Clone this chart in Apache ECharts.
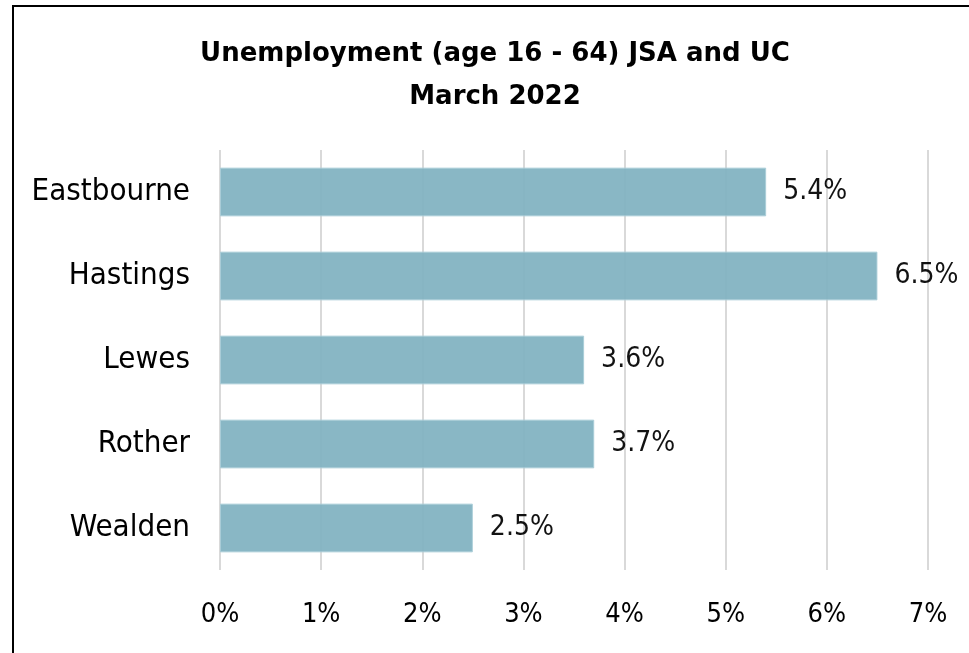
<!DOCTYPE html>
<html>
<head>
<meta charset="utf-8">
<script src="https://cdn.jsdelivr.net/npm/echarts@6/dist/echarts.min.js"></script>
<style>
    html, body { margin: 0; padding: 0; background: #fff; }
    #chart { width: 969px; height: 653px; }
</style>
</head>
<body>
<div id="chart"></div>
<script>
// data
var categories = ["Eastbourne", "Hastings", "Lewes", "Rother", "Wealden"];
var rates = [5.4, 6.5, 3.6, 3.7, 2.5];
var tickMax = 7;

var FONT = "DejaVu Sans";
var FONT_NARROW = "DejaVu Sans Condensed";

var myChart = echarts.init(document.getElementById('chart'));

var option = {
    backgroundColor: '#fff',
    animation: false,
    title: {
        text: 'Unemployment (age 16 - 64) JSA and UC\nMarch 2022',
        left: 490,
        top: 28,
        textAlign: 'center',
        textStyle: {
            fontFamily: FONT,
            fontWeight: 'bold',
            fontSize: 26,
            lineHeight: 43,
            color: '#000'
        }
    },
    graphic: [{
        type: 'rect',
        shape: {x: 13, y: 6, width: 1000, height: 700},
        style: {fill: 'none', stroke: '#000', lineWidth: 2},
        silent: true,
        z: 10
    }],
    grid: {
        left: 220,
        right: 41,
        top: 150,
        bottom: 83
    },
    xAxis: {
        type: 'value',
        min: 0,
        max: tickMax,
        interval: 1,
        axisLine: {show: false},
        axisTick: {show: false},
        splitLine: {lineStyle: {color: '#d9d9d9', width: 2}},
        axisLabel: {
            formatter: '{value}%',
            margin: 31,
            fontFamily: FONT_NARROW,
            fontSize: 27,
            color: '#000'
        }
    },
    yAxis: {
        type: 'category',
        data: categories,
        inverse: true,
        axisLine: {show: false},
        axisTick: {show: false},
        axisLabel: {
            margin: 30,
            fontFamily: FONT_NARROW,
            fontSize: 31,
            color: '#000'
        }
    },
    series: [{
        type: 'bar',
        data: rates,
        barCategoryGap: '42%',
        itemStyle: {
            color: '#80b1c1',
            opacity: 0.93,
            borderColor: '#a9ccd7',
            borderWidth: 1
        },
        label: {
            show: true,
            position: 'right',
            distance: 17,
            formatter: function (p) { return p.value.toFixed(1) + '%'; },
            fontFamily: FONT_NARROW,
            fontSize: 28,
            color: '#000'
        }
    }]
};
myChart.setOption(option);
</script>
</body>
</html>
